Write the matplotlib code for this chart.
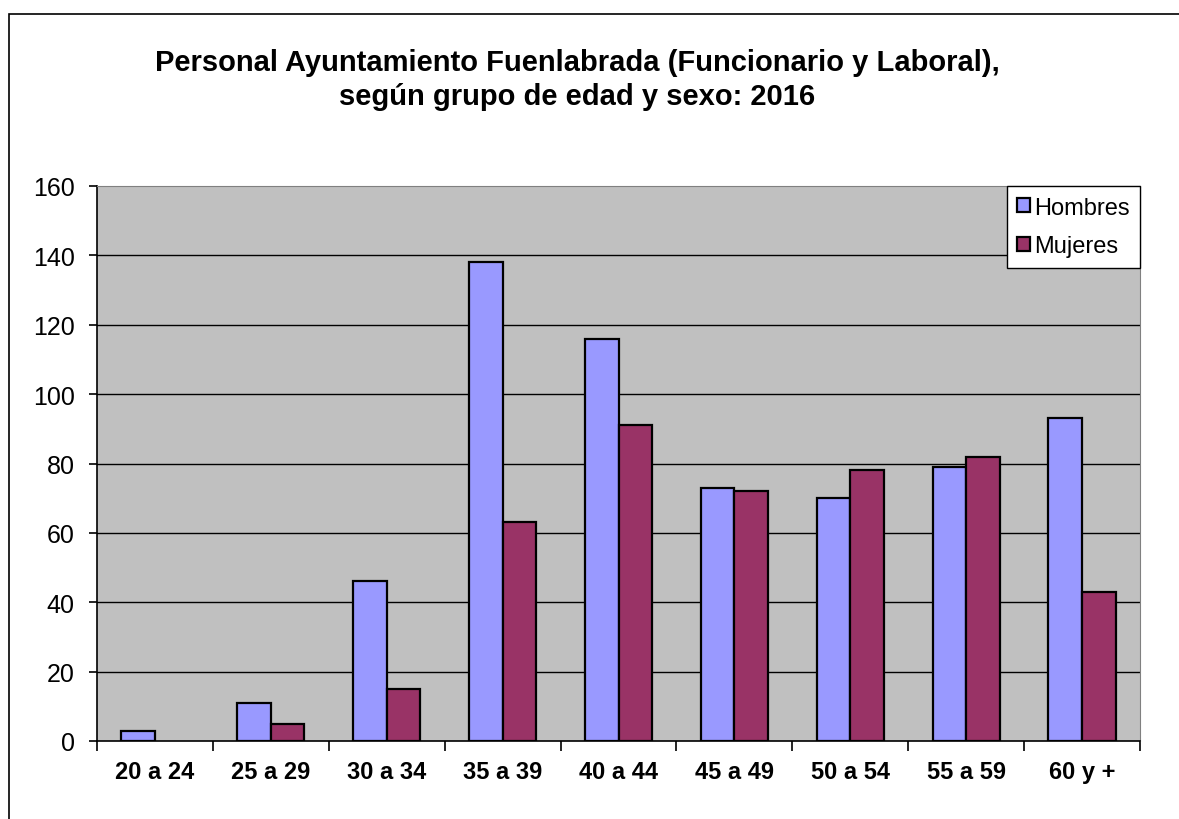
import numpy as np
import matplotlib
matplotlib.use('Agg')
import matplotlib.pyplot as plt
from matplotlib.patches import Rectangle, Patch

# 數據
grupos = ["20 a 24", "25 a 29", "30 a 34", "35 a 39", "40 a 44",
          "45 a 49", "50 a 54", "55 a 59", "60 y +"]
hombres = [3, 11, 46, 138, 116, 73, 70, 79, 93]
mujeres = [0, 5, 15, 63, 91, 72, 78, 82, 43]
y_ticks = [0, 20, 40, 60, 80, 100, 120, 140, 160]

COLOR_H = '#9999FF'
COLOR_M = '#993366'

plt.rcParams['font.family'] = ['Liberation Sans', 'DejaVu Sans']

W, H = 1179, 820
fig = plt.figure(figsize=(W / 100, H / 100), dpi=100)

# 外框
fig.add_artist(Rectangle((9 / W, -0.1), 1.1, (805 / H) + 0.1, transform=fig.transFigure,
                         fill=False, edgecolor='black', linewidth=1.2))

ax = fig.add_axes([97 / W, 78 / H, (1140 - 97) / W, (742 - 187) / H])
ax.set_facecolor('#C0C0C0')

x = np.arange(len(grupos))
bw = 0.29
ax.bar(x - bw / 2, hombres, bw, color=COLOR_H, edgecolor='black', linewidth=1.6, zorder=3)
bars_m = ax.bar(x + bw / 2, mujeres, bw, color=COLOR_M, edgecolor='black', linewidth=1.6, zorder=3)
# 值為 0 的柱子不畫
for b, v in zip(bars_m, mujeres):
    if v == 0:
        b.set_visible(False)

ax.set_xlim(-0.5, len(grupos) - 0.5)
ax.set_ylim(0, 160)
ax.set_yticks(y_ticks)
ax.set_yticklabels([str(v) for v in y_ticks], fontsize=18)
for v in y_ticks[1:-1]:
    ax.axhline(v, color='black', linewidth=1, zorder=1)

ax.set_xticks(x)
ax.set_xticklabels(grupos, fontsize=17, fontweight='bold')
ax.set_xticks(np.arange(len(grupos) + 1) - 0.5, minor=True)
ax.tick_params(axis='x', which='major', length=0, pad=14)
ax.tick_params(axis='x', which='minor', length=7, width=1.2, direction='out')
ax.tick_params(axis='y', length=6, width=1.2, direction='out', pad=10)

ax.spines['left'].set_linewidth(1.2)
ax.spines['bottom'].set_linewidth(1.2)
ax.spines['top'].set_color('#808080')
ax.spines['right'].set_color('#808080')

handles = [Patch(facecolor=COLOR_H, edgecolor='black', linewidth=1.6, label='Hombres'),
           Patch(facecolor=COLOR_M, edgecolor='black', linewidth=1.6, label='Mujeres')]
leg = ax.legend(handles=handles, loc='upper right', bbox_to_anchor=(1.0, 1.0), fontsize=17,
                frameon=True, fancybox=False, edgecolor='black', framealpha=1, borderaxespad=0,
                handlelength=0.55, handleheight=0.55, handletextpad=0.15,
                labelspacing=0.7, borderpad=0.45)
leg.get_frame().set_linewidth(1.0)

fig.text(577 / W, 1 - 63 / H, "Personal Ayuntamiento Fuenlabrada (Funcionario y Laboral),",
         ha='center', va='center', fontsize=21, fontweight='bold')
fig.text(577 / W, 1 - 97 / H, "según grupo de edad y sexo: 2016",
         ha='center', va='center', fontsize=21, fontweight='bold')

plt.savefig('out.png', dpi=100)
plt.close()
